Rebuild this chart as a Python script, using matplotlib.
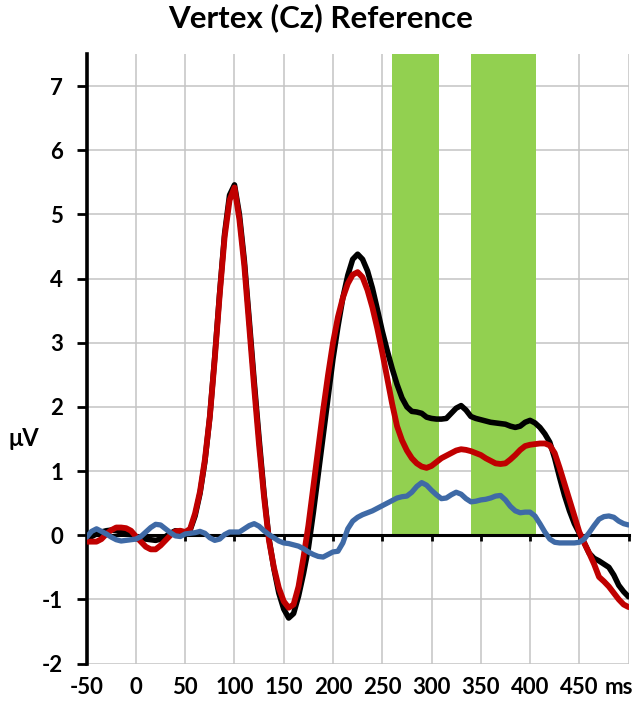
'''
ERP waveforms at the vertex (Cz) reference, with the analysis windows shaded.
'''
import numpy as np
import matplotlib.pyplot as plt
import matplotlib.transforms as mtransforms

# Time axis in ms, sampled every 5 ms
time_ms = np.arange(-50, 505, 5)

# Black trace
black_uv = [
  -0.05, -0.02, 0.02, 0.05, 0.07, 0.08, 0.07, 0.05, 0.04, 0.01,
  -0.02, -0.04, -0.06, -0.07, -0.08, -0.06, -0.02, 0.03, 0.07, 0.06,
  0.03, 0.08, 0.30, 0.65, 1.15, 1.85, 2.78, 3.78, 4.70, 5.30,
  5.46, 5.00, 4.28, 3.35, 2.40, 1.50, 0.65, -0.05, -0.52, -0.90,
  -1.15, -1.29, -1.22, -0.95, -0.60, -0.20, 0.35, 0.95, 1.55, 2.15,
  2.75, 3.25, 3.70, 4.05, 4.30, 4.38, 4.30, 4.12, 3.85, 3.52,
  3.18, 2.88, 2.60, 2.35, 2.14, 2.00, 1.93, 1.92, 1.90, 1.84,
  1.82, 1.81, 1.81, 1.82, 1.90, 1.98, 2.02, 1.95, 1.85, 1.82,
  1.80, 1.78, 1.76, 1.75, 1.74, 1.73, 1.70, 1.68, 1.70, 1.76,
  1.79, 1.75, 1.68, 1.58, 1.45, 1.20, 0.90, 0.62, 0.38, 0.18,
  0.03, -0.12, -0.28, -0.36, -0.40, -0.45, -0.50, -0.62, -0.78, -0.88,
  -0.96,
]

# Red trace
red_uv = [
  -0.10, -0.10, -0.10, -0.06, 0.02, 0.08, 0.12, 0.12, 0.11, 0.07,
  -0.02, -0.10, -0.18, -0.22, -0.22, -0.16, -0.08, 0.00, 0.06, 0.07,
  0.05, 0.10, 0.34, 0.68, 1.18, 1.85, 2.75, 3.75, 4.65, 5.22,
  5.42, 4.92, 4.20, 3.25, 2.30, 1.40, 0.60, -0.08, -0.50, -0.82,
  -1.03, -1.13, -1.08, -0.80, -0.35, 0.15, 0.75, 1.35, 1.95, 2.50,
  3.00, 3.40, 3.70, 3.92, 4.06, 4.10, 4.02, 3.82, 3.55, 3.22,
  2.85, 2.45, 2.05, 1.70, 1.48, 1.32, 1.20, 1.12, 1.07, 1.05,
  1.08, 1.14, 1.20, 1.24, 1.28, 1.32, 1.34, 1.33, 1.31, 1.28,
  1.25, 1.20, 1.16, 1.12, 1.11, 1.12, 1.18, 1.25, 1.33, 1.39,
  1.41, 1.42, 1.43, 1.43, 1.40, 1.28, 1.05, 0.80, 0.55, 0.30,
  0.05, -0.12, -0.28, -0.45, -0.65, -0.72, -0.80, -0.90, -1.00, -1.08,
  -1.12,
]

# Blue trace
blue_uv = [
  -0.03, 0.06, 0.10, 0.06, 0.02, -0.03, -0.07, -0.09, -0.08, -0.07,
  -0.06, -0.02, 0.05, 0.12, 0.17, 0.16, 0.10, 0.04, -0.01, -0.02,
  0.02, 0.03, 0.04, 0.06, 0.03, -0.04, -0.08, -0.06, 0.01, 0.05,
  0.05, 0.05, 0.10, 0.15, 0.18, 0.14, 0.07, 0.01, -0.04, -0.09,
  -0.12, -0.13, -0.15, -0.17, -0.21, -0.26, -0.30, -0.33, -0.34, -0.30,
  -0.26, -0.25, -0.12, 0.10, 0.22, 0.28, 0.32, 0.35, 0.38, 0.42,
  0.46, 0.50, 0.54, 0.58, 0.60, 0.61, 0.67, 0.76, 0.82, 0.78,
  0.70, 0.63, 0.57, 0.58, 0.63, 0.67, 0.64, 0.57, 0.52, 0.53,
  0.55, 0.56, 0.58, 0.61, 0.62, 0.55, 0.45, 0.38, 0.35, 0.36,
  0.36, 0.30, 0.18, 0.05, -0.06, -0.11, -0.12, -0.12, -0.12, -0.12,
  -0.11, -0.06, 0.04, 0.15, 0.25, 0.29, 0.30, 0.28, 0.22, 0.18,
  0.16,
]

# Shaded analysis windows (ms)
window_start = [260, 340]
window_end = [308, 406]
window_top = 7.5

x_ticks = np.arange(-50, 501, 50)
x_tick_labels = [str(t) for t in x_ticks[:-1]] + [""]
y_ticks = np.arange(-2, 8, 1)

plt.rcParams['font.family'] = ['Lato', 'DejaVu Sans']
plt.rcParams['font.weight'] = 'bold'
plt.rcParams['axes.unicode_minus'] = False

fig = plt.figure(figsize=(6.35, 7.1), dpi=100)
ax = fig.add_axes([0.1365, 0.0654, 0.8534, 0.8586])

# Green analysis windows as columns from 0 up to the top
ax.bar(window_start, [window_top] * len(window_start),
       width=np.array(window_end) - np.array(window_start),
       align='edge', bottom=0, color='#92D050', zorder=1.5)

ax.plot(time_ms, black_uv, color='black', lw=4.0, zorder=3, solid_capstyle='round')
ax.plot(time_ms, red_uv, color='#C00000', lw=4.2, zorder=3.1, solid_capstyle='round')
ax.plot(time_ms, blue_uv, color='#3F6AA6', lw=3.8, zorder=3.2, solid_capstyle='round')

ax.set_xlim(-50, 500)
ax.set_ylim(-2, 7.5)
ax.set_xticks(x_ticks)
ax.set_yticks(y_ticks)
ax.grid(True, color='#C4C4C4', lw=1.1, zorder=0)
ax.set_axisbelow(True)

for side in ('top', 'right'):
  ax.spines[side].set_visible(False)
ax.spines['left'].set_linewidth(2.6)
ax.spines['bottom'].set_position(('data', 0))
ax.spines['bottom'].set_linewidth(2.2)
ax.spines['bottom'].set_zorder(2.8)
ax.spines['left'].set_zorder(2.8)

ax.tick_params(axis='x', direction='out', length=4, width=2, labelbottom=False)
ax.tick_params(axis='y', direction='out', length=7, width=2, pad=10, labelsize=16)

# Tick labels for the time axis sit at the bottom of the plot
sec = ax.secondary_xaxis('bottom')
sec.set_xticks(x_ticks)
sec.set_xticklabels(x_tick_labels)
sec.spines['bottom'].set_visible(False)
sec.tick_params(length=0, pad=10, labelsize=16)

trans = mtransforms.blended_transform_factory(ax.transData, ax.transAxes)
ax.annotate("ms", xy=(500, 0), xycoords=trans, xytext=(3, -10),
            textcoords='offset points', ha='right', va='top',
            fontsize=16, fontweight='bold')

fig.text(0.038, 0.383, "μV", ha='center', va='center', fontsize=17, fontweight='bold')
fig.suptitle("Vertex (Cz) Reference", x=0.505, y=0.995, va='top',
             fontsize=22.5, fontweight='bold')

fig.savefig("out.png", dpi=100)
